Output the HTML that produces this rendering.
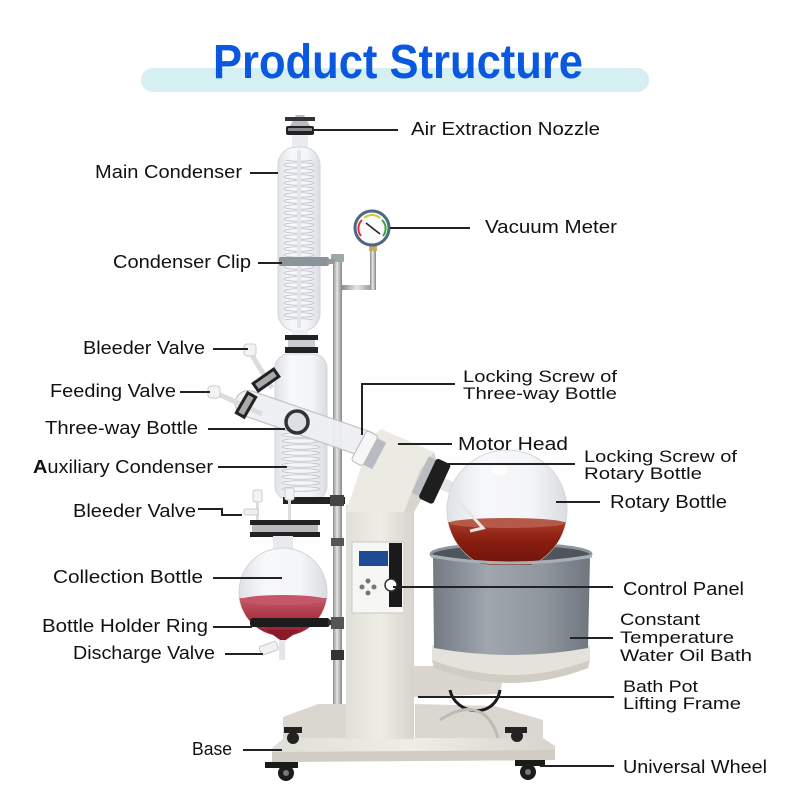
<!DOCTYPE html>
<html><head><meta charset="utf-8"><style>
html,body{margin:0;padding:0;background:#fff;}
svg{display:block;}
.l{font-family:"Liberation Sans",sans-serif;font-size:18px;fill:#111;}
.s{font-family:"Liberation Sans",sans-serif;font-size:17px;fill:#111;}
.ln{stroke:#222;stroke-width:2;fill:none;}
</style></head><body>
<svg width="800" height="800" viewBox="0 0 800 800" xmlns="http://www.w3.org/2000/svg">
<defs>
<linearGradient id="glass" x1="0" x2="1" y1="0" y2="0">
<stop offset="0" stop-color="#dfe2e6"/><stop offset="0.3" stop-color="#f7f8fa"/><stop offset="0.7" stop-color="#f4f5f7"/><stop offset="1" stop-color="#d9dce1"/></linearGradient>
<linearGradient id="pole" x1="0" x2="1"><stop offset="0" stop-color="#8c8c8c"/><stop offset="0.45" stop-color="#e6e6e6"/><stop offset="1" stop-color="#858585"/></linearGradient>
<linearGradient id="bath" x1="0" x2="1"><stop offset="0" stop-color="#737a83"/><stop offset="0.35" stop-color="#a0a6ae"/><stop offset="0.7" stop-color="#8f969e"/><stop offset="1" stop-color="#6f767e"/></linearGradient>
<linearGradient id="liq" x1="0" x2="0" y1="0" y2="1"><stop offset="0" stop-color="#a83a28"/><stop offset="0.3" stop-color="#8a1e10"/><stop offset="1" stop-color="#5e0d05"/></linearGradient>
<linearGradient id="liq2" x1="0" x2="0" y1="0" y2="1"><stop offset="0" stop-color="#c45a66"/><stop offset="0.4" stop-color="#a52a3a"/><stop offset="1" stop-color="#7a1020"/></linearGradient>
<linearGradient id="cream" x1="0" x2="1"><stop offset="0" stop-color="#e0dfd7"/><stop offset="0.5" stop-color="#eeede6"/><stop offset="1" stop-color="#d6d4cb"/></linearGradient>
<pattern id="coil1" width="42" height="6" patternUnits="userSpaceOnUse" x="278" y="0"><ellipse cx="21" cy="3" rx="15" ry="2.3" fill="none" stroke="#c3c7cd" stroke-width="0.9"/></pattern>
<pattern id="coil2" width="52" height="6" patternUnits="userSpaceOnUse" x="275" y="0"><ellipse cx="26" cy="3" rx="19" ry="2.3" fill="none" stroke="#c3c7cd" stroke-width="0.9"/></pattern>
<clipPath id="rb"><circle cx="507" cy="510" r="60"/></clipPath>
<clipPath id="cb"><circle cx="283" cy="592" r="44"/></clipPath>
</defs>

<!-- Title -->
<rect x="141" y="68" width="508" height="24" rx="12" fill="#d5eff3"/>
<text x="398" y="78" text-anchor="middle" font-family="Liberation Sans,sans-serif" font-size="48" font-weight="bold" fill="#0a58e0" textLength="370" lengthAdjust="spacingAndGlyphs">Product Structure</text>

<!-- Stand pole -->
<rect x="333" y="255" width="9" height="458" fill="url(#pole)"/>
<rect x="331" y="254" width="13" height="8" fill="#9aa" rx="1"/>
<!-- gauge arm -->
<rect x="342" y="285" width="33" height="5" fill="url(#pole)"/>
<rect x="370" y="243" width="6" height="47" fill="url(#pole)"/>
<rect x="369" y="243" width="8" height="8" fill="#c9a86a"/>
<circle cx="372" cy="228" r="17" fill="#fbfbfb" stroke="#4b6785" stroke-width="3"/>
<path d="M361 236 A12 12 0 0 1 362 220" stroke="#d33" stroke-width="2" fill="none"/>
<path d="M364 218 A12 12 0 0 1 380 218" stroke="#cc3" stroke-width="2" fill="none"/>
<path d="M382 220 A12 12 0 0 1 383 236" stroke="#3a3" stroke-width="2" fill="none"/>
<line x1="366" y1="223" x2="380" y2="234" stroke="#223" stroke-width="1.6"/>

<!-- Top nozzle -->
<rect x="292" y="134" width="16" height="16" fill="#e9ebee"/>
<path d="M290 126 L296 115 L304 115 L310 126 Z" fill="#b9bcc0"/>
<rect x="285" y="117" width="30" height="4" fill="#333"/>
<rect x="286" y="126" width="28" height="9" fill="#222" rx="2"/>
<rect x="288" y="128" width="24" height="3" fill="#888"/>

<!-- Main condenser -->
<rect x="278" y="147" width="42" height="184" rx="18" fill="url(#glass)" stroke="#d2d5da"/>
<rect x="280" y="160" width="38" height="160" fill="url(#coil1)"/>
<rect x="297" y="150" width="4" height="178" fill="#e2e5e9"/>
<!-- Condenser clip -->
<rect x="279" y="257" width="50" height="9" rx="2" fill="#8b939b"/>
<rect x="327" y="259" width="8" height="5" fill="#999"/>

<!-- joint between condensers -->
<rect x="292" y="330" width="16" height="26" fill="#eceef1"/>
<rect x="285" y="335" width="33" height="5" fill="#222"/>
<rect x="285" y="347" width="33" height="6" fill="#222"/>
<rect x="288" y="340" width="27" height="7" fill="#c8cbd0"/>

<!-- Aux condenser -->
<rect x="275" y="354" width="52" height="146" rx="14" fill="url(#glass)" stroke="#d2d5da"/>
<rect x="278" y="420" width="46" height="72" fill="url(#coil2)"/>
<!-- three-way bottle -->
<g transform="rotate(19 305 423)">
<rect x="232" y="410" width="150" height="26" rx="13" fill="#eef0f3" stroke="#bfc3c8" stroke-width="1.2" opacity="0.95"/>
<rect x="375" y="418" width="20" height="10" fill="#e6e8eb" stroke="#c2c6cb"/>
</g>
<circle cx="297" cy="422" r="11" fill="#dcdfe3" stroke="#333" stroke-width="3.5"/>
<!-- upper bleeder valve -->
<line x1="250" y1="352" x2="272" y2="388" stroke="#d9dce0" stroke-width="5"/>
<rect x="244" y="344" width="12" height="12" rx="3" fill="#f3f3f3" stroke="#ccc"/>
<g transform="rotate(-35 266 380)"><rect x="252" y="374" width="28" height="12" fill="#222"/><rect x="255" y="377" width="22" height="6" fill="#aaa"/></g>
<!-- feeding valve -->
<line x1="214" y1="392" x2="262" y2="414" stroke="#d9dce0" stroke-width="5"/>
<rect x="208" y="386" width="12" height="12" rx="3" fill="#f3f3f3" stroke="#ccc"/>
<g transform="rotate(-60 246 405)"><rect x="233" y="399" width="26" height="12" fill="#222"/><rect x="236" y="402" width="20" height="6" fill="#aaa"/></g>
<!-- aux condenser bottom plate -->
<rect x="283" y="497" width="62" height="7" fill="#222"/>
<rect x="330" y="495" width="14" height="11" fill="#444"/>
<!-- lower bleeder valves -->
<rect x="253" y="490" width="9" height="12" rx="2" fill="#f3f3f3" stroke="#ccc"/>
<rect x="285" y="488" width="9" height="12" rx="2" fill="#f3f3f3" stroke="#ccc"/>
<rect x="256" y="502" width="3" height="20" fill="#ddd"/>
<rect x="288" y="500" width="3" height="22" fill="#ddd"/>
<rect x="244" y="509" width="14" height="6" rx="2" fill="#f1f1f1" stroke="#ccc"/>
<rect x="250" y="520" width="70" height="5" fill="#222"/>
<rect x="252" y="525" width="66" height="7" fill="#bbb"/>
<rect x="250" y="532" width="70" height="5" fill="#222"/>
<rect x="273" y="536" width="20" height="14" fill="#e8eaed"/>

<!-- Collection bottle -->
<circle cx="283" cy="592" r="44" fill="url(#glass)" stroke="#d2d5da"/>
<g clip-path="url(#cb)"><rect x="235" y="598" width="100" height="60" fill="url(#liq2)"/><ellipse cx="283" cy="600" rx="43" ry="5" fill="#c4586a"/></g>
<path d="M266 630 L283 642 L300 630 Z" fill="#8a1a28"/>
<rect x="250" y="618" width="80" height="9" rx="3" fill="#1c1c1c"/>
<rect x="328" y="620" width="8" height="5" fill="#333"/>
<rect x="331" y="617" width="13" height="12" fill="#555"/>
<!-- discharge valve -->
<rect x="279" y="640" width="6" height="20" fill="#e3e5e8"/>
<g transform="rotate(-20 268 649)"><rect x="260" y="644" width="18" height="9" rx="2" fill="#f1f1f1" stroke="#c8c8c8"/></g>
<rect x="331" y="650" width="13" height="10" fill="#333"/>
<rect x="331" y="538" width="13" height="8" fill="#555"/>

<!-- Base -->
<polygon points="283,717 318,704 348,704 348,740 283,740" fill="#d9d7cf"/>
<polygon points="415,704 495,706 543,720 543,740 415,740" fill="#d9d7cf"/>
<polygon points="272,748 284,738 543,738 555,746 555,760 272,762" fill="url(#cream)"/>
<polygon points="272,752 555,750 555,760 272,762" fill="#cfcdc4"/>
<!-- wheels -->
<rect x="284" y="727" width="18" height="6" fill="#222"/>
<circle cx="293" cy="738" r="6" fill="#222"/>
<rect x="505" y="727" width="22" height="6" fill="#222"/>
<circle cx="517" cy="736" r="6" fill="#222"/>
<rect x="265" y="762" width="33" height="6" fill="#1a1a1a"/>
<circle cx="286" cy="773" r="8" fill="#1c1c1c"/><circle cx="286" cy="773" r="3" fill="#777"/>
<rect x="515" y="760" width="30" height="6" fill="#1a1a1a"/>
<circle cx="528" cy="772" r="8" fill="#1c1c1c"/><circle cx="528" cy="772" r="3" fill="#777"/>

<!-- Bath base & lifting frame -->
<polygon points="413,666 505,666 500,694 413,697" fill="#d8d6ce"/>
<path d="M450 690 C 455 715, 495 720, 500 690" stroke="#1a1a1a" stroke-width="3" fill="none"/>
<path d="M440 720 C 470 700, 490 710, 498 738" stroke="#bdbbb3" stroke-width="3" fill="none"/>
<path d="M432 645 L590 645 L590 660 Q 511 690 432 660 Z" fill="#e4e2da"/>
<path d="M432 660 Q 511 690 590 660 L588 668 Q 511 698 434 668 Z" fill="#cfcdc4"/>

<!-- Column & motor head -->
<rect x="346" y="505" width="68" height="234" fill="url(#cream)"/>
<polygon points="370,438 381,429 434,452 437,462 421,500 414,512 346,512 360,470" fill="#ebeae3"/>
<polygon points="434,452 437,462 421,500 414,512 404,512 420,470" fill="#d7d5cc"/>
<!-- three-way locking ring -->
<g transform="rotate(28 370 450)"><rect x="358" y="434" width="13" height="34" rx="3" fill="#f6f6f6" stroke="#bbb"/><rect x="371" y="436" width="10" height="30" fill="#b8bbbf"/></g>
<!-- control panel -->
<rect x="352" y="542" width="52" height="71" fill="#f6f6f4" stroke="#c8c8c4"/>
<rect x="359" y="551" width="29" height="15" fill="#1d4c94"/>
<rect x="389" y="543" width="13" height="64" fill="#1a1a1a"/>
<circle cx="391" cy="585" r="6" fill="#fff" stroke="#333" stroke-width="1.5"/>
<circle cx="368" cy="581" r="2.5" fill="#777"/><circle cx="368" cy="593" r="2.5" fill="#777"/>
<circle cx="362" cy="587" r="2.5" fill="#777"/><circle cx="374" cy="587" r="2.5" fill="#777"/>

<!-- Bath back/inside -->
<ellipse cx="511" cy="554" rx="80" ry="10" fill="#4e555c" stroke="#8d949c" stroke-width="3"/>

<!-- Rotary bottle -->
<line x1="438" y1="482" x2="470" y2="495" stroke="#e3e5e8" stroke-width="12"/>
<circle cx="507" cy="510" r="60" fill="url(#glass)" stroke="#d4d6da"/>
<g clip-path="url(#rb)"><rect x="440" y="522" width="140" height="60" fill="url(#liq)"/><ellipse cx="507" cy="523" rx="58" ry="5" fill="#b55a4a"/></g>
<polyline points="450,492 483,528 470,531" stroke="#e9e6e2" stroke-width="3" fill="none"/>
<ellipse cx="500" cy="470" rx="8" ry="5" fill="#fff" opacity="0.8"/>
<!-- rotary locking screw -->
<g transform="rotate(25 432 480)"><rect x="419" y="460" width="9" height="40" fill="#b9bcc0"/><rect x="427" y="458" width="16" height="44" rx="3" fill="#1e1e1e"/></g>

<!-- Bath front body -->
<path d="M433 558 Q 511 572 590 558 L588 648 Q 511 662 434 648 Z" fill="url(#bath)"/>
<path d="M431 556 Q 511 570 592 556" stroke="#a9afb6" stroke-width="3" fill="none"/>

<!-- Leader lines -->
<g class="ln">
<line x1="313" y1="130" x2="398" y2="130"/>
<line x1="250" y1="173" x2="278" y2="173"/>
<line x1="390" y1="228" x2="470" y2="228"/>
<line x1="258" y1="263" x2="282" y2="263"/>
<line x1="213" y1="349" x2="248" y2="349"/>
<line x1="180" y1="392" x2="210" y2="392"/>
<line x1="208" y1="429" x2="285" y2="429"/>
<line x1="218" y1="467" x2="287" y2="467"/>
<polyline points="198,509 222,509 222,515 242,515"/>
<line x1="213" y1="578" x2="282" y2="578"/>
<line x1="213" y1="627" x2="252" y2="627"/>
<line x1="225" y1="654" x2="263" y2="654"/>
<line x1="243" y1="750" x2="282" y2="750"/>
<polyline points="455,384 362,384 362,435"/>
<line x1="398" y1="444" x2="452" y2="444"/>
<line x1="443" y1="464" x2="575" y2="464"/>
<line x1="556" y1="502" x2="600" y2="502"/>
<line x1="393" y1="587" x2="613" y2="587"/>
<line x1="570" y1="638" x2="613" y2="638"/>
<line x1="418" y1="697" x2="614" y2="697"/>
<line x1="540" y1="766" x2="614" y2="766"/>
</g>

<!-- Labels -->
<g lengthAdjust="spacingAndGlyphs">
<text class="l" x="411" y="135" textLength="189" lengthAdjust="spacingAndGlyphs">Air Extraction Nozzle</text>
<text class="l" x="95" y="178" textLength="147" lengthAdjust="spacingAndGlyphs">Main Condenser</text>
<text class="l" x="485" y="233" textLength="132" lengthAdjust="spacingAndGlyphs">Vacuum Meter</text>
<text class="l" x="113" y="268" textLength="138" lengthAdjust="spacingAndGlyphs">Condenser Clip</text>
<text class="l" x="83" y="354" textLength="122" lengthAdjust="spacingAndGlyphs">Bleeder Valve</text>
<text class="l" x="50" y="397" textLength="126" lengthAdjust="spacingAndGlyphs">Feeding Valve</text>
<text class="l" x="45" y="434" textLength="153" lengthAdjust="spacingAndGlyphs">Three-way Bottle</text>
<text class="l" x="33" y="473" textLength="180" lengthAdjust="spacingAndGlyphs"><tspan font-weight="bold">A</tspan>uxiliary Condenser</text>
<text class="l" x="73" y="517" textLength="123" lengthAdjust="spacingAndGlyphs">Bleeder Valve</text>
<text class="l" x="53" y="583" textLength="150" lengthAdjust="spacingAndGlyphs">Collection Bottle</text>
<text class="l" x="42" y="632" textLength="166" lengthAdjust="spacingAndGlyphs">Bottle Holder Ring</text>
<text class="l" x="73" y="659" textLength="142" lengthAdjust="spacingAndGlyphs">Discharge Valve</text>
<text class="l" x="192" y="755" textLength="40" lengthAdjust="spacingAndGlyphs">Base</text>
<text class="s" x="463" y="382" textLength="154" lengthAdjust="spacingAndGlyphs">Locking Screw of</text>
<text class="s" x="463" y="399" textLength="154" lengthAdjust="spacingAndGlyphs">Three-way Bottle</text>
<text class="l" x="458" y="450" textLength="110" lengthAdjust="spacingAndGlyphs">Motor Head</text>
<text class="s" x="584" y="462" textLength="153" lengthAdjust="spacingAndGlyphs">Locking Screw of</text>
<text class="s" x="584" y="479" textLength="118" lengthAdjust="spacingAndGlyphs">Rotary Bottle</text>
<text class="l" x="610" y="508" textLength="117" lengthAdjust="spacingAndGlyphs">Rotary Bottle</text>
<text class="l" x="623" y="595" textLength="121" lengthAdjust="spacingAndGlyphs">Control Panel</text>
<text class="s" x="620" y="625" textLength="80" lengthAdjust="spacingAndGlyphs">Constant</text>
<text class="s" x="620" y="643" textLength="114" lengthAdjust="spacingAndGlyphs">Temperature</text>
<text class="s" x="620" y="661" textLength="132" lengthAdjust="spacingAndGlyphs">Water Oil Bath</text>
<text class="s" x="623" y="692" textLength="75" lengthAdjust="spacingAndGlyphs">Bath Pot</text>
<text class="s" x="623" y="709" textLength="118" lengthAdjust="spacingAndGlyphs">Lifting Frame</text>
<text class="l" x="623" y="773" textLength="144" lengthAdjust="spacingAndGlyphs">Universal Wheel</text>
</g>
</svg>
</body></html>
